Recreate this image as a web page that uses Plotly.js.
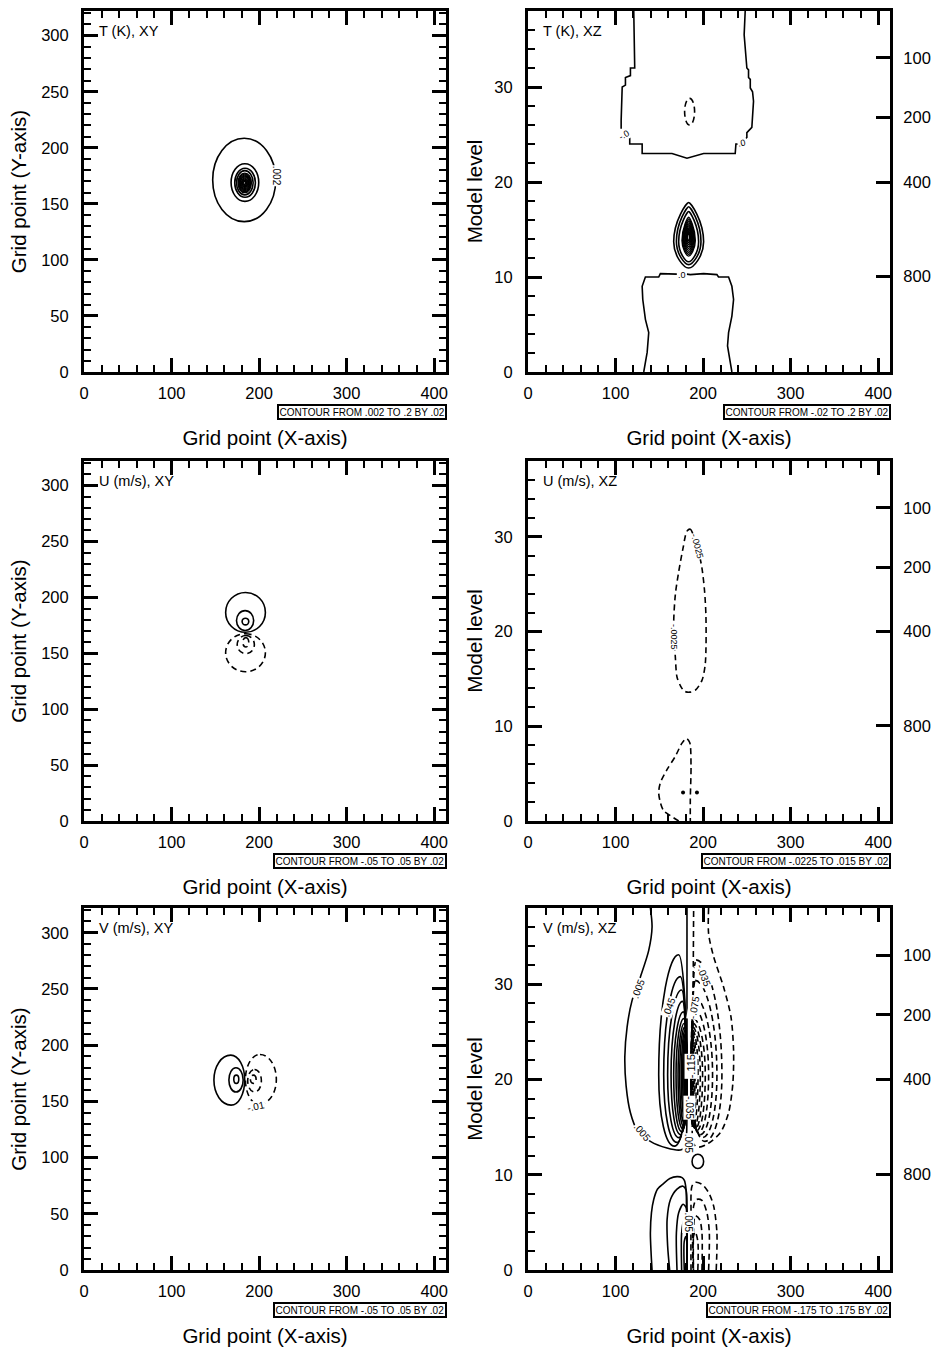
<!DOCTYPE html>
<html><head><meta charset="utf-8">
<script src="https://cdn.plot.ly/plotly-3.0.1.min.js"></script>
<style>html,body{margin:0;padding:0;background:#fff}#chart{width:931px;height:1352px}</style>
</head><body><div id="chart"></div>
<script>
// ================= DATA =================
// axes
const xTicks = [0, 100, 200, 300, 400];
const xyYTicks = [0, 50, 100, 150, 200, 250, 300];
const xzYTicks = [0, 10, 20, 30];
const xRange = [0, 413.5];
const xyYRange = [0, 322];
const xzYRange = [0, 38];
const pressureLabels = ['100', '200', '400', '800'];
const pressureLevels = [33.06, 26.79, 20.0, 10.03];   // model level of each pressure label
const panelTitles = ['T (K), XY', 'T (K), XZ', 'U (m/s), XY', 'U (m/s), XZ', 'V (m/s), XY', 'V (m/s), XZ'];
const contourInfo = ['CONTOUR FROM .002 TO .2 BY .02', 'CONTOUR FROM -.02 TO .2 BY .02',
  'CONTOUR FROM -.05 TO .05 BY .02', 'CONTOUR FROM -.0225 TO .015 BY .02',
  'CONTOUR FROM -.05 TO .05 BY .02', 'CONTOUR FROM -.175 TO .175 BY .02'];

// ---- Panel 1: T XY, closed rings (centre, half-widths) ----
const txyCx = [183.0, 183.8, 184.0, 183.7, 183.6, 183.6, 183.6, 183.6, 183.6, 183.6, 183.6, 183.6, 183.6];
const txyCy = [171.3, 169.0, 168.8, 168.8, 168.7, 168.7, 168.7, 168.7, 168.7, 168.7, 168.7, 168.7, 168.7];
const txyRx = [36.0, 15.8, 11.8, 9.5, 7.6, 6.8, 6.0, 5.2, 4.4, 3.6, 2.8, 2.0, 1.2];
const txyRy = [37.2, 16.8, 12.9, 10.8, 8.7, 7.8, 6.9, 6.0, 5.1, 4.2, 3.3, 2.4, 1.5];

// ---- Panel 2: T XZ ----
const txzUpX = [120.8, 121.0, 121.9, 121.9, 117.0, 117.0, 111.3, 111.3, 107.6, 106.8, 106.4, 106.4, null,
  113.5, 116.2, 116.2, 130.4, 130.4, 164.5, 181.6, 200.6, 236.7, 237.5, 240.2, null,
  248.6, 250.0, 250.0, 255.7, 257.6, 256.5, 253.9, 253.9, 251.9, 251.9, 250.0, 248.1, 246.9, 248.1];
const txzUpY = [38.0, 35.5, 33.5, 32.0, 32.0, 31.2, 31.0, 30.2, 30.0, 28.5, 26.5, 25.6, null,
  24.7, 24.7, 24.0, 24.0, 23.0, 23.0, 22.5, 23.0, 23.0, 24.0, 24.0, null,
  24.6, 24.7, 25.2, 25.75, 28.5, 29.5, 29.9, 30.8, 31.0, 31.8, 32.0, 34.1, 35.5, 38.0];
const txzLoX = [132.2, 134.0, 136.1, 137.9, 134.1, 131.1, 130.4, 134.1, 149.3, 151.2, 170.0, null,
  181.5, 185.4, 200.6, 215.8, 217.6, 229.1, 232.9, 234.8, 232.9, 229.1, 227.9, 231.0, 232.9];
const txzLoY = [0, 1.0, 2.06, 4.15, 5.54, 7.63, 9.02, 10.0, 10.0, 10.35, 10.3, null,
  10.3, 10.25, 10.35, 10.25, 10.0, 10.0, 9.02, 7.63, 5.89, 4.15, 2.75, 1.01, 0];
const txzSmallCx = [184.6], txzSmallCy = [27.4], txzSmallRx = [5.7], txzSmallRy = [1.4];
// lens rings: left, right, top, bottom (pointed top)
const lensL = [166.4, 169.5, 172.1, 175.9, 176.7, 177.5, 178.3, 179.1, 179.9, 180.7, 181.5, 182.3];
const lensR = [200.6, 197.6, 194.9, 191.1, 190.3, 189.5, 188.7, 187.9, 187.1, 186.3, 185.5, 184.7];
const lensT = [17.84, 17.4, 16.9, 16.3, 16.1, 15.9, 15.7, 15.5, 15.3, 15.1, 14.9, 14.7];
const lensB = [10.94, 11.3, 11.6, 12.2, 12.4, 12.6, 12.8, 13.0, 13.2, 13.4, 13.6, 13.8];

// ---- Panel 3: U XY rings ----
const uxyCx = [184.5, 184.0, 184.4, 184.5, 184.8, 184.8];
const uxyCy = [186.6, 179.3, 178.4, 150.5, 157.8, 159.8];
const uxyRx = [22.7, 9.8, 3.8, 22.7, 9.8, 3.4];
const uxyRy = [17.8, 8.9, 3.0, 17.0, 8.1, 4.2];
const uxyNeg = [false, false, false, true, true, true];

// ---- Panel 4: U XZ ----
const uxzUpX = [181.6, 185.4, 189.2, 194.9, 198.7, 201.7, 203.3, 202.5, 198.7, 191.1, 184.6, 178.6, 174.0, 170.2, 168.3, 166.4, 168.3, 172.1, 177.1, 181.6];
const uxzUpY = [30.6, 30.8, 30.1, 28.4, 26.7, 24.25, 21.46, 16.6, 14.84, 13.8, 13.6, 13.7, 14.3, 15.2, 17.3, 20.8, 23.9, 26.3, 28.8, 30.6];
const uxzLoX = [172.1, 162.6, 155.0, 151.2, 149.3, 151.2, 158.9, 168.3, 175.9, 180.9, 184.7, 186.2, 185.4, 185.4];
const uxzLoY = [0, 0.56, 1.08, 1.95, 3.0, 4.04, 5.44, 6.83, 8.22, 8.71, 8.29, 5.78, 2.3, 0];
const uxzDotX = [177.1, 193.0], uxzDotY = [3.0, 3.0];

// ---- Panel 5: V XY eggs: left, right, bottom, top, xTop, xBottom, yMid ----
const vxyL = [148.4, 165.5, 171.1, 184.4, 187.0, 190.1];
const vxyR = [183.6, 181.8, 176.8, 219.7, 202.6, 196.6];
const vxyB = [146.7, 158.3, 166.0, 147.3, 158.3, 166.0];
const vxyT = [191.1, 179.9, 173.3, 191.7, 178.4, 173.3];
const vxyXt = [167.6, 173.6, 174.0, 201.0, 194.8, 193.4];
const vxyXb = [168.0, 173.6, 174.0, 200.0, 194.8, 193.4];
const vxyYm = [168.9, 169.1, 169.7, 169.5, 168.3, 169.7];
const vxyNeg = [false, false, false, true, true, true];

// ---- Panel 6: V XZ ----
const vUpPosX = [139.8, 141.7, 137.9, 128.4, 118.9, 113.2, 110.6, 112.1, 117.0, 124.6, 139.8, 158.8, 174.0, 178.6, 180.8, 181.6, 181.6, 181.6];
const vUpPosY = [38.0, 36.0, 33.55, 30.77, 28.3, 25.5, 22.4, 19.3, 16.5, 14.7, 13.5, 12.8, 12.6, 12.8, 13.7, 17.9, 28.0, 38.0];
const vUpNegX = [206.3, 206.3, 212.0, 223.4, 231.8, 234.8, 234.0, 229.1, 219.6, 204.4, 195.0, 189.2, 188.4, 188.6, 189.2];
const vUpNegY = [38.0, 35.3, 32.9, 29.7, 26.6, 23.1, 19.6, 16.5, 14.4, 13.2, 12.9, 13.2, 18.0, 28.0, 38.0];
// closed positive rings (solid)
const vPosL = [149.3, 155.0, 159.5, 163.4, 166.4, 169.1, 171.4, 173.3, 175.2, 176.7, 178.0, 179.0, 179.8, 180.4, 180.9];
const vPosT = [33.1, 30.8, 29.4, 28.2, 27.1, 26.4, 25.9, 25.5, 25.2, 24.9, 24.6, 24.3, 24.0, 23.7, 23.4];
const vPosB = [13.0, 13.4, 13.9, 14.2, 14.5, 14.8, 15.0, 15.3, 15.6, 15.9, 16.2, 16.5, 16.8, 17.1, 17.4];
const vPosXt = [172.0, 174.0, 175.5, 176.5, 177.5, 178.0, 178.5, 179.0, 179.5, 180.0, 180.3, 180.6, 180.8, 181.0, 181.1];
const vPosR = 181.3;
// closed negative rings (dashed)
const vNegR = [221.5, 215.8, 210.8, 206.3, 202.5, 199.4, 196.8, 194.2, 192.3, 190.8, 189.8, 189.0, 188.3];
const vNegT = [32.55, 30.4, 28.7, 27.5, 26.4, 25.9, 25.5, 25.2, 24.9, 24.6, 24.3, 24.0, 23.7];
const vNegB = [13.5, 13.9, 14.2, 14.4, 14.6, 14.8, 15.0, 15.1, 15.3, 15.5, 15.7, 15.9, 16.1];
const vNegXt = [192.0, 191.0, 190.0, 189.5, 189.0, 188.5, 188.2, 188.0, 187.8, 187.6, 187.4, 187.2, 187.0];
const vNegL = 186.5;
const vRingYm = 20.5;
// lower lobe (open at the bottom)
const vLoPosX = [[141.7, 140.5, 139.8, 141.0, 143.6, 148.0, 155.0, 162.0, 170.2, 176.0, 178.6, 180.5, 181.0, 181.3, 181.6],
  [161.8, 159.5, 158.9, 162.7, 170.2, 177.1, 180.5, 181.6, 181.6],
  [170.2, 169.5, 172.1, 177.1, 180.9, 181.6, 181.6],
  [175.5, 175.5, 178.0, 180.5, 181.4],
  [178.5, 178.5, 180.5, 181.4]];
const vLoPosY = [[0, 2.0, 3.9, 6.0, 7.4, 8.5, 9.1, 9.6, 9.8, 9.7, 9.4, 8.5, 7.0, 4.0, 0],
  [0, 2.54, 5.3, 7.4, 8.5, 8.8, 8.4, 5.7, 0],
  [0, 3.9, 6.0, 6.9, 6.5, 4.0, 0],
  [0, 3.9, 5.2, 5.0, 0],
  [0, 3.0, 3.5, 0]];
const vLoNegX = [[215.0, 215.8, 212.0, 206.3, 198.7, 191.1, 187.3, 186.2, 186.2],
  [206.3, 207.1, 204.4, 198.7, 192.3, 189.2, 188.4],
  [198.7, 198.7, 196.0, 191.1, 189.2, 189.0],
  [194.0, 194.0, 191.0, 189.0, 189.0]];
const vLoNegY = [[0, 3.94, 6.73, 8.13, 9.0, 9.2, 8.8, 5.7, 0],
  [0, 3.94, 6.0, 7.3, 7.4, 6.7, 0],
  [0, 3.9, 5.3, 5.7, 4.5, 0],
  [0, 3.0, 4.0, 3.5, 0]];
const vBlobCx = [194.0], vBlobCy = [11.4], vBlobRx = [6.6], vBlobRy = [0.75];

// contour labels: panel, x, y, text, angle
const labPanel = [1, 2, 2, 2, 4, 4, 5, 6, 6, 6, 6, 6, 6, 6, 6, 6];
const labX = [220.8, 109.8, 244.6, 176.0, 193.0, 166.0, 196.5, 126.5, 130.4, 160.7, 200.6, 189.4, 186.4, 184.9, 183.5, 182.8];
const labY = [174.8, 24.9, 24.1, 10.25, 29.0, 19.4, 145.8, 29.5, 14.4, 27.6, 30.9, 27.6, 21.4, 17.0, 13.3, 4.98];
const labText = ['.002', '-.0', '.0', '.0', '-.0025', '-.0025', '-.01', '.005', '.005', '.045', '-.035', '-.075', '-.115', '-.035', '.005', '.005'];
const labAngle = [90, -30, -10, 0, 75, 90, -12, -69, 50, -70, 70, -80, -90, 90, 90, 90];
const labSize = [10, 9, 9, 9, 9, 9, 10, 10, 10, 10, 10, 10, 11, 10, 10, 10];

// ================= BUILD =================
const FONT = 'Liberation Sans, Arial, Helvetica, sans-serif';
const W = 931, H = 1352;
const colPx = [[84, 446], [528, 890]];
const rowPx = [[11, 372], [461, 821], [908, 1270]];
const ax = n => (n === 1 ? '' : String(n));
const LW = 1.6, DASH = '6px,4px';

function f(v) { return (+v).toFixed(3); }
function P(x, y) { return f(x) + ',' + f(y); }
function eggPath(xl, xr, yb, yt, xt, xb, ym, kt, kb, ks) {
  return 'M' + P(xt, yt) +
    ' C' + P(xt + kt * (xr - xt), yt) + ' ' + P(xr, ym + ks * (yt - ym)) + ' ' + P(xr, ym) +
    ' C' + P(xr, ym - ks * (ym - yb)) + ' ' + P(xb + kb * (xr - xb), yb) + ' ' + P(xb, yb) +
    ' C' + P(xb - kb * (xb - xl), yb) + ' ' + P(xl, ym - ks * (ym - yb)) + ' ' + P(xl, ym) +
    ' C' + P(xl, ym + ks * (yt - ym)) + ' ' + P(xt - kt * (xt - xl), yt) + ' ' + P(xt, yt) + ' Z';
}
const K = 0.5523;
function ellipsePath(cx, cy, rx, ry) { return eggPath(cx - rx, cx + rx, cy - ry, cy + ry, cx, cx, cy, K, K, K); }

const shapes = [];
function addShape(n, path, neg, width) {
  shapes.push({type: 'path', xref: 'x' + ax(n), yref: 'y' + ax(n), path: path, layer: 'above',
    line: {color: '#000', width: width || LW, dash: neg ? DASH : 'solid'}});
}
const traces = [];
function addLine(n, xs, ys, neg, smooth) {
  traces.push({x: xs, y: ys, xaxis: 'x' + ax(n), yaxis: 'y' + ax(n), type: 'scatter', mode: 'lines',
    line: {color: '#000', width: LW, dash: neg ? DASH : 'solid', shape: smooth ? 'spline' : 'linear', smoothing: 0.8},
    hoverinfo: 'skip', showlegend: false, connectgaps: false});
}

// empty traces so every subplot exists
for (let n = 1; n <= 6; n++) traces.push({x: [], y: [], xaxis: 'x' + ax(n), yaxis: 'y' + ax(n), type: 'scatter', showlegend: false});
[[7, 2], [8, 4], [9, 6]].forEach(p => traces.push({x: [], y: [], xaxis: 'x' + p[1], yaxis: 'y' + p[0], type: 'scatter', showlegend: false}));

// Panel 1
txyCx.forEach((c, i) => addShape(1, ellipsePath(c, txyCy[i], txyRx[i], txyRy[i]), false, i > 3 ? 1.4 : LW));
// Panel 2
addLine(2, txzUpX, txzUpY, false, false);
addLine(2, txzLoX, txzLoY, false, false);
addShape(2, ellipsePath(txzSmallCx[0], txzSmallCy[0], txzSmallRx[0], txzSmallRy[0]), true);
lensL.forEach((l, i) => {
  const cx = (l + lensR[i]) / 2, ym = (lensT[i] + lensB[i]) / 2 - 0.1 * (lensT[i] - lensB[i]);
  addShape(2, eggPath(l, lensR[i], lensB[i], lensT[i], cx, cx, ym, 0.12, 0.3, 0.55), false, i > 2 ? 1.4 : LW);
});
// Panel 3
uxyCx.forEach((c, i) => addShape(3, ellipsePath(c, uxyCy[i], uxyRx[i], uxyRy[i]), uxyNeg[i]));
// Panel 4
addLine(4, uxzUpX, uxzUpY, true, true);
addLine(4, uxzLoX, uxzLoY, true, true);
traces.push({x: uxzDotX, y: uxzDotY, xaxis: 'x4', yaxis: 'y4', type: 'scatter', mode: 'markers',
  marker: {color: '#000', size: 4}, hoverinfo: 'skip', showlegend: false});
// Panel 5
vxyL.forEach((l, i) => addShape(5, eggPath(l, vxyR[i], vxyB[i], vxyT[i], vxyXt[i], vxyXb[i], vxyYm[i], K, K, K), vxyNeg[i]));
// Panel 6
addLine(6, vUpPosX, vUpPosY, false, true);
addLine(6, vUpNegX, vUpNegY, true, true);
vPosL.forEach((l, i) => addShape(6, eggPath(l, vPosR, vPosB[i], vPosT[i], vPosXt[i], (l + vPosR) / 2 + 2, vRingYm, 0.45, 0.55, 0.6), false, 1.6));
vNegR.forEach((r, i) => addShape(6, eggPath(vNegL, r, vNegB[i], vNegT[i], vNegXt[i], (vNegL + r) / 2 - 2, vRingYm, 0.45, 0.55, 0.6), true, 1.6));
vLoPosX.forEach((xs, i) => addLine(6, xs, vLoPosY[i], false, true));
vLoNegX.forEach((xs, i) => addLine(6, xs, vLoNegY[i], true, true));
addShape(6, ellipsePath(vBlobCx[0], vBlobCy[0], vBlobRx[0], vBlobRy[0]), false);

// ---------- layout ----------
const layout = {width: W, height: H, margin: {l: 0, r: 0, t: 0, b: 0}, paper_bgcolor: '#fff', plot_bgcolor: '#fff',
  showlegend: false, font: {family: FONT, color: '#000'}, shapes: shapes, annotations: []};
const tickFont = {family: FONT, size: 16.5, color: '#000'};
const titleFont = {family: FONT, size: 20.5, color: '#000'};

for (let n = 1; n <= 6; n++) {
  const row = Math.floor((n - 1) / 2), col = (n - 1) % 2, isXZ = col === 1;
  const xdom = [colPx[col][0] / W, colPx[col][1] / W];
  const ydom = [1 - rowPx[row][1] / H, 1 - rowPx[row][0] / H];
  layout['xaxis' + ax(n)] = {domain: xdom, anchor: 'y' + ax(n), range: xRange, tickmode: 'array', tickvals: xTicks,
    ticks: 'inside', ticklen: 14, tickwidth: 3, tickcolor: '#000', showline: true, linewidth: 3, linecolor: '#000',
    mirror: 'ticks', showgrid: false, zeroline: false, tickfont: tickFont, ticklabelstandoff: 4,
    minor: {tickmode: 'linear', tick0: 0, dtick: 20, ticks: 'inside', ticklen: 7, tickwidth: 2, tickcolor: '#000', showgrid: false},
    title: {text: 'Grid point (X-axis)', font: titleFont, standoff: 30}, fixedrange: true};
  layout['yaxis' + ax(n)] = {domain: ydom, anchor: 'x' + ax(n), range: isXZ ? xzYRange : xyYRange, tickmode: 'array',
    tickvals: isXZ ? xzYTicks : xyYTicks,
    ticks: 'inside', ticklen: 14, tickwidth: 3, tickcolor: '#000', showline: true, linewidth: 3, linecolor: '#000',
    mirror: isXZ ? false : 'ticks', showgrid: false, zeroline: false, tickfont: tickFont, ticklabelstandoff: 9,
    minor: {tickmode: 'linear', tick0: 0, dtick: isXZ ? 2 : 10, ticks: 'inside', ticklen: 7, tickwidth: 2, tickcolor: '#000', showgrid: false},
    title: {text: isXZ ? 'Model level' : 'Grid point (Y-axis)', font: titleFont, standoff: isXZ ? 7 : 9}, fixedrange: true};
  // panel title
  layout.annotations.push({xref: 'paper', yref: 'paper', x: (colPx[col][0] + 13) / W, y: 1 - (rowPx[row][0] + 20) / H,
    xanchor: 'left', yanchor: 'middle', text: panelTitles[n - 1], showarrow: false, font: {family: FONT, size: 14.5, color: '#000'}});
  // contour info box
  layout.annotations.push({xref: 'paper', yref: 'paper', x: (colPx[col][1] + 0.5) / W, y: 1 - (rowPx[row][1] + 39.5) / H,
    xanchor: 'right', yanchor: 'middle', text: contourInfo[n - 1], showarrow: false,
    font: {family: FONT, size: 10, color: '#000'}, bordercolor: '#000', borderwidth: 2, borderpad: 0.5, bgcolor: '#fff'});
}
// pressure axes on the right of XZ panels
[[7, 2], [8, 4], [9, 6]].forEach(p => {
  layout['yaxis' + p[0]] = {overlaying: 'y' + p[1], anchor: 'x' + p[1], side: 'right', range: xzYRange,
    tickmode: 'array', tickvals: pressureLevels, ticktext: pressureLabels, ticks: 'inside', ticklen: 14, tickwidth: 3,
    tickcolor: '#000', showline: true, linewidth: 3, linecolor: '#000', showgrid: false, zeroline: false,
    tickfont: tickFont, ticklabelstandoff: 7, fixedrange: true};
});
// contour labels
labPanel.forEach((n, i) => {
  layout.annotations.push({xref: 'x' + ax(n), yref: 'y' + ax(n), x: labX[i], y: labY[i], text: labText[i],
    textangle: labAngle[i], showarrow: false, font: {family: FONT, size: labSize[i], color: '#000'}, bgcolor: '#fff', borderpad: 0});
});

Plotly.newPlot('chart', traces, layout, {staticPlot: true, displayModeBar: false});
</script>
</body></html>
